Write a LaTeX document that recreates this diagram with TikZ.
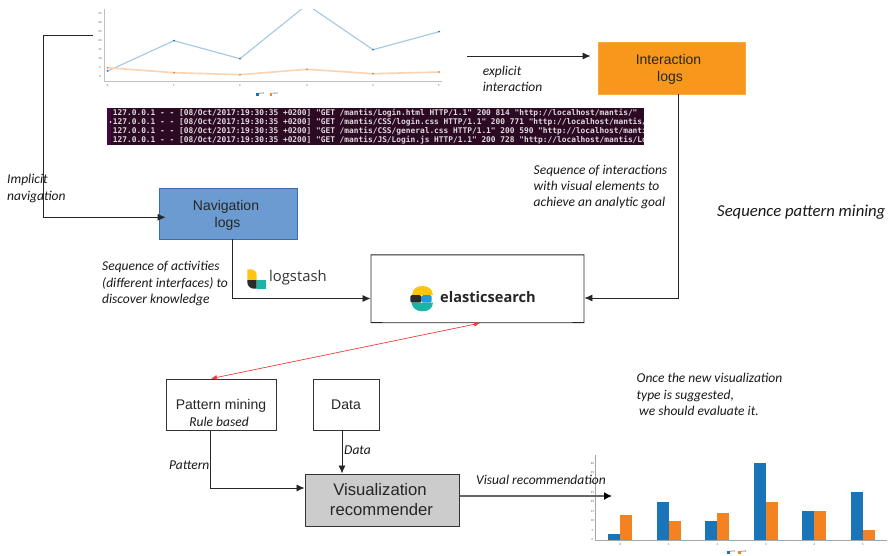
\documentclass[tikz,border=0pt]{standalone}
\usepackage{fontspec}
\setmainfont{Carlito}
\newfontfamily\boxfont{Liberation Sans}
\newfontfamily\logofont{Open Sans}
\newfontfamily\termfont{DejaVu Sans Mono}
\usepackage{tikz}
\usetikzlibrary{positioning,arrows.meta,shapes.geometric}

\definecolor{navblue}{HTML}{6C9BD2}
\definecolor{navedge}{HTML}{3A6CB0}
\definecolor{logorange}{HTML}{F7981D}
\definecolor{recgray}{HTML}{CCCCCC}
\definecolor{serblue}{HTML}{1A75B8}
\definecolor{serorange}{HTML}{F58220}
\definecolor{termbg}{HTML}{2C0A24}
\definecolor{esyellow}{HTML}{FEC514}
\definecolor{esteal}{HTML}{1BB5A8}
\definecolor{esblue}{HTML}{1F9BDC}
\definecolor{esdark}{HTML}{2B2B2B}
\definecolor{linkred}{HTML}{F03C3C}

\tikzset{
  boxnode/.style={draw=black!80, line width=0.8pt, align=center, text=black!85, text depth=-1.5pt, font=\boxfont\fontsize{14}{17}\selectfont},
  note/.style={align=left, anchor=west, inner sep=0pt, text=black!90, font=\itshape\fontsize{13.5}{16.3}\selectfont},
  arrow/.style={draw=black!85, line width=0.8pt, -{Latex[length=8pt,width=7pt]}},
  tinylabel/.style={inner sep=0pt, text=black!70, font=\fontsize{3}{3.5}\selectfont}
}

\begin{document}
\begin{tikzpicture}[x=1pt,y=-1pt]
\useasboundingbox (0,0) rectangle (889,555);

% line chart
\begin{scope}
\clip (100,9) rectangle (445,100);
\draw[black!25, line width=0.6pt] (104.3,9) -- (104.3,81) -- (442,81);
\draw[serblue!40, line width=1.1pt] (107.7,71) -- (174,40.7) -- (240,58.7) -- (307,4.7) -- (373,49.7) -- (439,31.7);
\draw[serorange!35, line width=1.6pt] (107.7,67.7) -- (174,72.7) -- (240,74.7) -- (307,69.3) -- (373,73.7) -- (439,72);
\foreach \px/\a/\b in {107.7/71/67.7,174/40.7/72.7,240/58.7/74.7,373/49.7/73.7,439/31.7/72}{
  \fill[serblue] (\px,\a) circle (1pt);
  \fill[serorange] (\px,\b) circle (1pt);
}
\fill[serorange] (307,69.3) circle (1pt);
\end{scope}
\foreach \i/\px in {0/107.7,1/174,2/240,3/307,4/373,5/439}
  \node[tinylabel] at (\px,85.5)(linetick\i){\i};
\foreach \v/\py in {0/76.7,5/67.7,10/58.7,15/49.7,20/40.7,25/31.7,30/22.7,35/13.7}
  \node[tinylabel] at (100,\py)(linevalue\v){\v};
\fill[serblue] (256,92.5) rectangle (258.5,95.5);
\node[tinylabel, anchor=west] at (259,94)(lineleg1){ser1};
\fill[serorange] (269.5,92.5) rectangle (272,95.5);
\node[tinylabel, anchor=west] at (272.5,94)(lineleg2){ser2};

% access log
\fill[termbg] (107.3,107.7) rectangle (643.5,144.5);
\fill[termbg!70!violet] (107.3,107.7) rectangle (110.5,144.5);
\fill[white] (110.5,122) circle (0.8pt);
\begin{scope}
\clip (107.3,107.7) rectangle (643.5,144.5);
\foreach \i/\py/\req in {
  1/112.7/{Login.html HTTP/1.1" 200 814 "http://localhost/mantis/"},
  2/121.7/{CSS/login.css HTTP/1.1" 200 771 "http://localhost/mantis/L},
  3/130.7/{CSS/general.css HTTP/1.1" 200 590 "http://localhost/mantis},
  4/140/{JS/Login.js HTTP/1.1" 200 728 "http://localhost/mantis/Lo}}
  \node[anchor=west, inner sep=0pt, text=white!85!termbg, font=\termfont\bfseries\fontsize{7.85}{9}\selectfont] at (112.7,\py)(logline\i){127.0.0.1 - - [08/Oct/2017:19:30:35 +0200] "GET /mantis/\req};
\end{scope}

% bar chart
\draw[black!35, line width=0.6pt] (595.7,455) -- (595.7,540) -- (886.7,540);
\foreach \i/\a/\b in {0/3/13,1/20/10,2/10/14,3/40/20,4/15/15,5/25/5}{
  \fill[serblue] (608.3+48.5*\i,540) rectangle (620.3+48.5*\i,540-1.917*\a);
  \fill[serorange] (620.3+48.5*\i,540) rectangle (632.3+48.5*\i,540-1.917*\b);
  \node[tinylabel] at (620.3+48.5*\i,545)(bartick\i){\i};
}
\foreach \v in {0,5,...,40}
  \node[tinylabel] at (592.5,540-1.917*\v)(barvalue\v){\v};
\fill[serblue] (727,550.5) rectangle (729.5,553.5);
\node[tinylabel, anchor=west] at (730,552)(barleg1){ser1};
\fill[serorange] (738,550.5) rectangle (740.5,553.5);
\node[tinylabel, anchor=west] at (741,552)(barleg2){ser2};

% boxes
\node[boxnode, draw=navedge, fill=navblue, minimum width=138pt, minimum height=51pt] at (228,213.5)(nav){Navigation\hspace*{4pt}\\logs\hspace*{1pt}};
\node[boxnode, draw=logorange!85!white, fill=logorange, minimum width=147pt, minimum height=52pt] at (671.5,68)(interaction){Interaction\hspace*{6pt}\\logs\hspace*{3pt}};
\node[boxnode, minimum width=110pt, minimum height=51pt] at (221,404.5)(pattern){Pattern mining};
\node[boxnode, minimum width=66pt, minimum height=51pt] at (346,404.5)(datasrc){Data};
\node[boxnode, fill=recgray, line width=1pt, text depth=0.5pt, minimum width=154pt, minimum height=52pt, font=\boxfont\fontsize{16.7}{19.7}\selectfont] at (382,500)(vis){Visualization\hspace*{4pt}\\recommender\hspace*{1pt}};
\node[draw=black!85, line width=0.8pt, cylinder, shape border rotate=90, aspect=0.04, minimum width=213pt, minimum height=68pt] at (477.5,289)(elastic){};

% logstash logo
\fill[esyellow] (247.3,269.3) -- (251,269.3) .. controls (254.5,269.3) and (256.7,272) .. (256.7,275.5) -- (256.7,280) -- (247.3,280) -- cycle;
\fill[esdark] (247.3,280) -- (256.7,280) -- (256.7,288.7) -- (254,288.7) .. controls (250,288.7) and (247.3,285.5) .. (247.3,282) -- cycle;
\fill[esteal] (256.7,280) rectangle (265.7,288.7);
\node[inner sep=0pt, anchor=west, text=black!80, font=\logofont\fontsize{14.8}{18}\selectfont] at (269,278)(logstash){logstash};

% elasticsearch logo
\fill[esyellow] (412,295) .. controls (412.5,289) and (416.5,286) .. (422.5,286) .. controls (428.5,286) and (432.5,289) .. (433,295) -- cycle;
\fill[esdark, rounded corners=1.5pt] (410.3,295) rectangle (421.5,302.7);
\fill[esblue, rounded corners=1.5pt] (421.5,295) rectangle (431.7,302.7);
\fill[esteal] (411.5,302.7) .. controls (412.5,308.5) and (416.5,311.3) .. (422.5,311.3) .. controls (428.5,311.3) and (432.5,308.5) .. (433,302.7) -- cycle;
\node[inner sep=0pt, anchor=west, text=black!85, font=\logofont\fontsize{14.6}{18}\selectfont] at (440,297)(estext){\textbf{elasticsearch}};

% labels
\node[note] at (7,188.5)(implicit){Implicit\\navigation};
\node[note] at (482.7,79)(explicit){explicit\\interaction};
\node[note] at (533.5,187)(seqinter){Sequence of interactions\\with visual elements to\\achieve an analytic goal};
\node[note] at (102,283.5)(seqact){Sequence of activities\\(different interfaces) to\\discover knowledge};
\node[note, font=\itshape\fontsize{16.7}{20}\selectfont] at (717,212)(seqmining){Sequence pattern mining};
\node[note] at (636.5,394.5)(evaluate){Once the new visualization\\type is suggested,\\ \hspace*{2.5pt}we should evaluate it.};
\node[note, anchor=center] at (219,422)(rulebased){Rule based};
\node[note] at (169,465)(patternlab){Pattern};
\node[note] at (344,450)(datalab){Data};
\node[note] at (476,480)(reclab){Visual recommendation};

% connectors
\coordinate (navstart) at (93,35);
\coordinate (navturn) at (43,35);
\coordinate (expstart) at (467,56);
\coordinate (chartin) at (612,496);
\draw[arrow, shorten >=-7pt] (navstart) -- (navturn) |- ([yshift=-3.8pt]nav.west);
\draw[arrow, shorten >=7pt] (expstart) -- (interaction.west |- expstart);
\draw[arrow] ([xshift=7pt]interaction.south) |- ([yshift=-9pt]elastic.east);
\draw[arrow] ([xshift=4.5pt]nav.south) |- ([yshift=-9.5pt]elastic.west);
\draw[arrow] (pattern.south -| 210.7,0) |- (vis.west |- 0,488);
\draw[arrow] (datasrc.south -| 342,0) -- (vis.north -| 342,0);
\draw[draw=black!60, line width=1.3pt, -{Latex[length=8pt,width=8pt,color=black]}] (vis.east |- chartin) -- (chartin);
\draw[draw=linkred, line width=0.7pt, {Latex[length=6pt,width=5pt]}-{Latex[length=6pt,width=5pt]}] ([xshift=-10pt]pattern.north) -- ([xshift=2.5pt]elastic.south);
\end{tikzpicture}
\end{document}
